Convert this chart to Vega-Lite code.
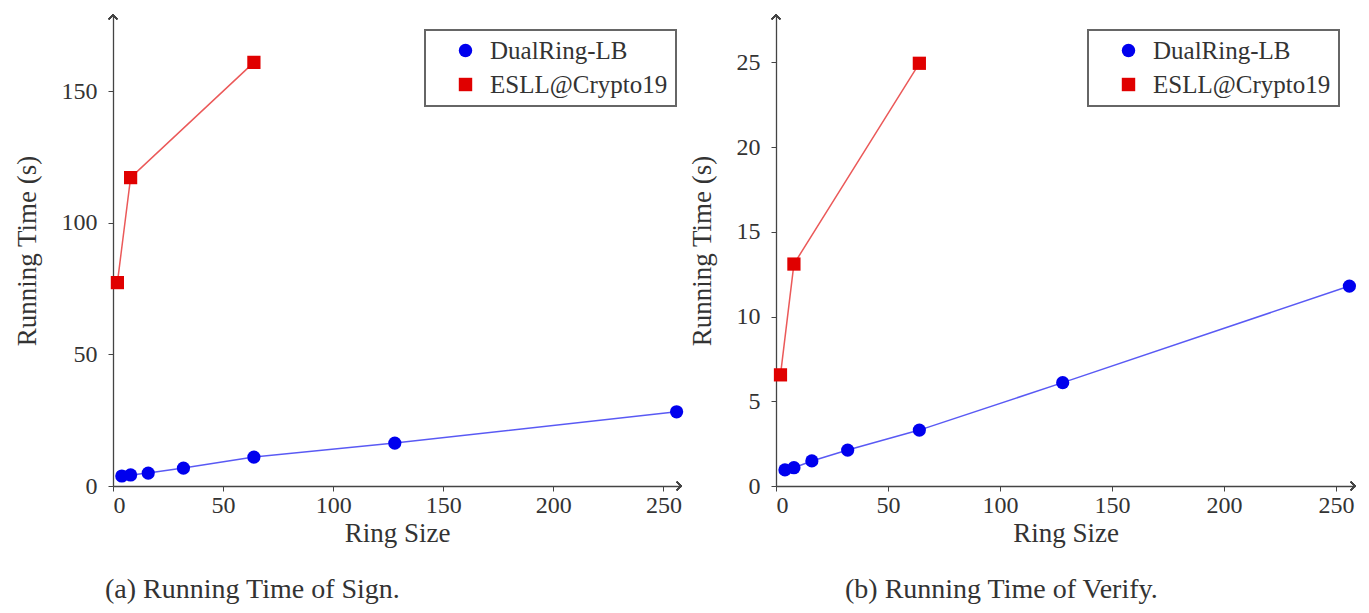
{
  "$schema": "https://vega.github.io/schema/vega-lite/v6.json",
  "background": "white",
  "padding": {"left": 13, "top": 12, "right": 4, "bottom": 0},
  "spacing": 4,
  "config": {
    "view": {"stroke": null},
    "font": "Liberation Serif",
    "axis": {
      "labelFont": "Liberation Serif", "labelFontSize": 24, "labelColor": "#333",
      "titleFont": "Liberation Serif", "titleFontSize": 27, "titleFontWeight": "normal", "titleColor": "#333",
      "domainColor": "#444", "tickColor": "#444", "grid": false, "tickSize": 5, "domainWidth": 1.3
    },
    "axisX": {"labelPadding": 2},
    "axisY": {"labelPadding": 11},
    "legend": {
      "title": null, "labelLimit": 400,
      "strokeColor": "#666", "strokeWidth": 2, "fillColor": "white", "padding": 8,
      "labelFont": "Liberation Serif", "labelFontSize": 25, "labelColor": "#333",
      "symbolSize": 180, "symbolOffset": 20, "labelOffset": 12, "rowPadding": 8,
      "symbolOpacity": 1, "symbolStrokeWidth": 0
    }
  },
  "datasets": {
    "sign": [
      {"ring": 4, "time": 3.8, "scheme": "DualRing-LB"},
      {"ring": 8, "time": 4.2, "scheme": "DualRing-LB"},
      {"ring": 16, "time": 4.9, "scheme": "DualRing-LB"},
      {"ring": 32, "time": 6.8, "scheme": "DualRing-LB"},
      {"ring": 64, "time": 11.0, "scheme": "DualRing-LB"},
      {"ring": 128, "time": 16.3, "scheme": "DualRing-LB"},
      {"ring": 256, "time": 28.2, "scheme": "DualRing-LB"},
      {"ring": 2, "time": 77.3, "scheme": "ESLL@Crypto19"},
      {"ring": 8, "time": 117.2, "scheme": "ESLL@Crypto19"},
      {"ring": 64, "time": 161.0, "scheme": "ESLL@Crypto19"}
    ],
    "verify": [
      {"ring": 4, "time": 0.95, "scheme": "DualRing-LB"},
      {"ring": 8, "time": 1.08, "scheme": "DualRing-LB"},
      {"ring": 16, "time": 1.48, "scheme": "DualRing-LB"},
      {"ring": 32, "time": 2.12, "scheme": "DualRing-LB"},
      {"ring": 64, "time": 3.3, "scheme": "DualRing-LB"},
      {"ring": 128, "time": 6.1, "scheme": "DualRing-LB"},
      {"ring": 256, "time": 11.8, "scheme": "DualRing-LB"},
      {"ring": 2, "time": 6.56, "scheme": "ESLL@Crypto19"},
      {"ring": 8, "time": 13.1, "scheme": "ESLL@Crypto19"},
      {"ring": 64, "time": 24.95, "scheme": "ESLL@Crypto19"}
    ]
  },
  "hconcat": [
    {
      "width": 568, "height": 471,
      "data": {"name": "sign"},
      "title": {"text": "(a) Running Time of Sign.", "orient": "bottom", "anchor": "start", "frame": "bounds", "fontSize": 28, "font": "Liberation Serif", "fontWeight": "normal", "color": "#333", "offset": 30, "dx": 92},
      "encoding": {
        "x": {"field": "ring", "type": "quantitative", "scale": {"domain": [0, 258], "nice": false}, "axis": {"title": "Ring Size", "values": [0, 50, 100, 150, 200, 250], "titlePadding": 3}},
        "y": {"field": "time", "type": "quantitative", "scale": {"domain": [0, 179], "nice": false}, "axis": {"title": "Running Time (s)", "values": [0, 50, 100, 150], "titlePadding": 20}}
      },
      "layer": [
        {"mark": {"type": "line", "strokeWidth": 1.5, "opacity": 0.65},
         "encoding": {"color": {"field": "scheme", "type": "nominal", "scale": {"domain": ["DualRing-LB", "ESLL@Crypto19"], "range": ["#0000ee", "#e00000"]},
           "legend": {"orient": "none", "legendX": 312, "legendY": 15, "title": null}}}},
        {"mark": {"type": "point", "filled": true, "opacity": 1, "size": 175},
         "encoding": {
           "shape": {"field": "scheme", "type": "nominal", "scale": {"domain": ["DualRing-LB", "ESLL@Crypto19"], "range": ["circle", "square"]}, "legend": {"orient": "none", "legendX": 312, "legendY": 15, "title": null}},
           "color": {"field": "scheme", "type": "nominal", "scale": {"domain": ["DualRing-LB", "ESLL@Crypto19"], "range": ["#0000ee", "#e00000"]},
             "legend": {"orient": "none", "legendX": 312, "legendY": 15, "title": null}}
         }},
        {"mark": {"type": "point", "shape": "M-1,-1L0,0L-1,1", "filled": false, "stroke": "#444", "strokeWidth": 1.3, "size": 70, "opacity": 1},
         "encoding": {"x": {"datum": 258}, "y": {"datum": 0}}},
        {"mark": {"type": "point", "shape": "M-1,1L0,0L1,1", "filled": false, "stroke": "#444", "strokeWidth": 1.3, "size": 70, "opacity": 1},
         "encoding": {"x": {"datum": 0}, "y": {"datum": 179}}}
      ]
    },
    {
      "width": 579, "height": 471,
      "data": {"name": "verify"},
      "title": {"text": "(b) Running Time of Verify.", "orient": "bottom", "anchor": "start", "frame": "bounds", "fontSize": 28, "font": "Liberation Serif", "fontWeight": "normal", "color": "#333", "offset": 30, "dx": 157},
      "encoding": {
        "x": {"field": "ring", "type": "quantitative", "scale": {"domain": [0, 258.5], "nice": false}, "axis": {"title": "Ring Size", "values": [0, 50, 100, 150, 200, 250], "titlePadding": 3}},
        "y": {"field": "time", "type": "quantitative", "scale": {"domain": [0, 27.8], "nice": false}, "axis": {"title": "Running Time (s)", "values": [0, 5, 10, 15, 20, 25], "titlePadding": 20}}
      },
      "layer": [
        {"mark": {"type": "line", "strokeWidth": 1.5, "opacity": 0.65},
         "encoding": {"color": {"field": "scheme", "type": "nominal", "scale": {"domain": ["DualRing-LB", "ESLL@Crypto19"], "range": ["#0000ee", "#e00000"]},
           "legend": {"orient": "none", "legendX": 312, "legendY": 15, "title": null}}}},
        {"mark": {"type": "point", "filled": true, "opacity": 1, "size": 175},
         "encoding": {
           "shape": {"field": "scheme", "type": "nominal", "scale": {"domain": ["DualRing-LB", "ESLL@Crypto19"], "range": ["circle", "square"]}, "legend": {"orient": "none", "legendX": 312, "legendY": 15, "title": null}},
           "color": {"field": "scheme", "type": "nominal", "scale": {"domain": ["DualRing-LB", "ESLL@Crypto19"], "range": ["#0000ee", "#e00000"]},
             "legend": {"orient": "none", "legendX": 312, "legendY": 15, "title": null}}
         }},
        {"mark": {"type": "point", "shape": "M-1,-1L0,0L-1,1", "filled": false, "stroke": "#444", "strokeWidth": 1.3, "size": 70, "opacity": 1},
         "encoding": {"x": {"datum": 258.5}, "y": {"datum": 0}}},
        {"mark": {"type": "point", "shape": "M-1,1L0,0L1,1", "filled": false, "stroke": "#444", "strokeWidth": 1.3, "size": 70, "opacity": 1},
         "encoding": {"x": {"datum": 0}, "y": {"datum": 27.8}}}
      ]
    }
  ],
  "resolve": {"scale": {"color": "independent", "shape": "independent"}, "legend": {"color": "independent", "shape": "independent"}}
}
